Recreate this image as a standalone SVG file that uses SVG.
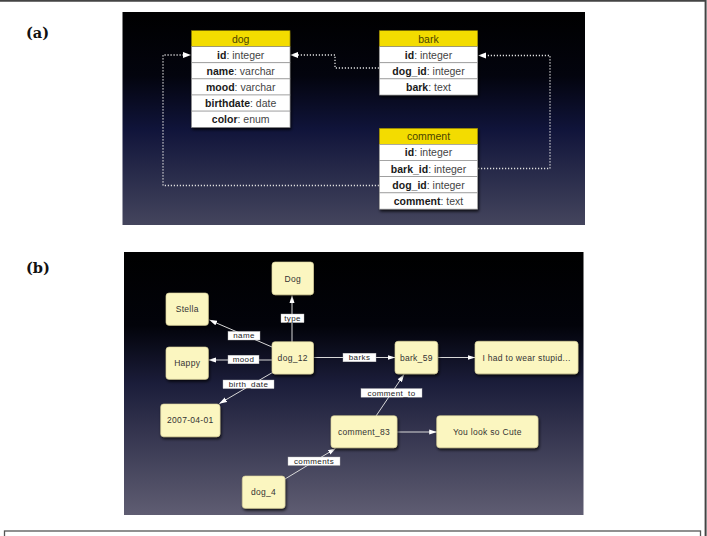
<svg xmlns="http://www.w3.org/2000/svg" width="707" height="536" viewBox="0 0 707 536">
<defs>
<linearGradient id="gA" x1="0" y1="0" x2="0" y2="1">
<stop offset="0" stop-color="#000"/>
<stop offset="0.3" stop-color="#03040e"/>
<stop offset="0.55" stop-color="#10143a"/>
<stop offset="1" stop-color="#44455d"/>
</linearGradient>
<linearGradient id="gB" x1="0" y1="0" x2="0" y2="1">
<stop offset="0" stop-color="#000"/>
<stop offset="0.28" stop-color="#02030a"/>
<stop offset="0.5" stop-color="#1b1d3a"/>
<stop offset="1" stop-color="#5f5d72"/>
</linearGradient>
<filter id="sh" x="-20%" y="-20%" width="150%" height="150%">
<feDropShadow dx="1" dy="2" stdDeviation="1.5" flood-color="#000" flood-opacity="0.8"/>
</filter>
<marker id="ab" markerWidth="8" markerHeight="6" refX="7.5" refY="3" orient="auto" markerUnits="userSpaceOnUse">
<path d="M0,0.5 L8,3 L0,5.5 Z" fill="#fff"/>
</marker>
</defs>
<style>
.hd{fill:#f3dc00;stroke:#8c7f00;stroke-width:0.6}
.rw{fill:#fff;stroke:#8a8a8a;stroke-width:0.6}
.tt{font-family:"Liberation Sans",Arial,sans-serif;font-size:10.5px;fill:#444;text-anchor:middle}
.th{font-family:"Liberation Sans",Arial,sans-serif;font-size:10.5px;fill:#4a4400;text-anchor:middle}
.b{font-weight:bold;fill:#1a1a1a}
.dot{fill:none;stroke:#e0e0e0;stroke-width:1.3;stroke-dasharray:1.2 1.8}
.nd{fill:#fbf6c0;stroke:#d8d09a;stroke-width:0.6}
.nt{font-family:"Liberation Sans",Arial,sans-serif;font-size:8.5px;fill:#333;text-anchor:middle;letter-spacing:0.3px}
.ln{fill:none;stroke:#d8d8d8;stroke-width:1}
.lb{fill:#fff;stroke:#bbb;stroke-width:0.4}
.lt{font-family:"Liberation Sans",Arial,sans-serif;font-size:8px;fill:#222;text-anchor:middle;letter-spacing:0.4px}
.pl{font-family:"DejaVu Serif","Liberation Serif",serif;font-weight:bold;font-size:14.5px;fill:#111}
</style>
<rect width="707" height="536" fill="#fff"/>
<path d="M0,0.8 H705.6 V536" fill="none" stroke="#444" stroke-width="2"/>
<rect x="4.5" y="531" width="696" height="10" fill="none" stroke="#555" stroke-width="1.3"/>
<text class="pl" x="26" y="38">(a)</text>
<text class="pl" x="26" y="273">(b)</text>

<rect x="122.5" y="12" width="462.5" height="213" fill="url(#gA)"/>
<g id="connectors-a">
<path class="dot" d="M379,185.5 H163 V55 H183"/>
<path d="M183,52 L191,55 L183,58 Z" fill="#fff"/>
<path class="dot" d="M379,68 H335 V55 H298"/>
<path d="M298,52 L290,55 L298,58 Z" fill="#fff"/>
<path class="dot" d="M478,168.5 H550 V55.5 H486"/>
<path d="M486,52.5 L478,55.5 L486,58.5 Z" fill="#fff"/>
</g>
<g id="t-dog" filter="url(#sh)">
<rect class="hd" x="191.5" y="30.7" width="98.5" height="16"/>
<rect class="rw" x="191.5" y="46.7" width="98.5" height="16.1"/>
<rect class="rw" x="191.5" y="62.8" width="98.5" height="16.1"/>
<rect class="rw" x="191.5" y="78.9" width="98.5" height="16.1"/>
<rect class="rw" x="191.5" y="95" width="98.5" height="16.1"/>
<rect class="rw" x="191.5" y="111.1" width="98.5" height="16.2"/>
</g>
<g id="t-dog-text">
<text class="th" x="240.7" y="42.5">dog</text>
<text class="tt" x="240.7" y="58.6"><tspan class="b">id</tspan>: integer</text>
<text class="tt" x="240.7" y="74.7"><tspan class="b">name</tspan>: varchar</text>
<text class="tt" x="240.7" y="90.8"><tspan class="b">mood</tspan>: varchar</text>
<text class="tt" x="240.7" y="106.9"><tspan class="b">birthdate</tspan>: date</text>
<text class="tt" x="240.7" y="123"><tspan class="b">color</tspan>: enum</text>
</g>
<g id="t-bark" filter="url(#sh)">
<rect class="hd" x="379.3" y="30.7" width="98.4" height="16"/>
<rect class="rw" x="379.3" y="46.7" width="98.4" height="16.1"/>
<rect class="rw" x="379.3" y="62.8" width="98.4" height="16.1"/>
<rect class="rw" x="379.3" y="78.9" width="98.4" height="16.1"/>
</g>
<g id="t-bark-text">
<text class="th" x="428.5" y="42.5">bark</text>
<text class="tt" x="428.5" y="58.6"><tspan class="b">id</tspan>: integer</text>
<text class="tt" x="428.5" y="74.7"><tspan class="b">dog_id</tspan>: integer</text>
<text class="tt" x="428.5" y="90.8"><tspan class="b">bark</tspan>: text</text>
</g>
<g id="t-comment" filter="url(#sh)">
<rect class="hd" x="379.3" y="128.3" width="98.4" height="16"/>
<rect class="rw" x="379.3" y="144.3" width="98.4" height="16.2"/>
<rect class="rw" x="379.3" y="160.5" width="98.4" height="16.2"/>
<rect class="rw" x="379.3" y="176.7" width="98.4" height="16.2"/>
<rect class="rw" x="379.3" y="192.9" width="98.4" height="16.2"/>
</g>
<g id="t-comment-text">
<text class="th" x="428.5" y="140.1">comment</text>
<text class="tt" x="428.5" y="156.3"><tspan class="b">id</tspan>: integer</text>
<text class="tt" x="428.5" y="172.5"><tspan class="b">bark_id</tspan>: integer</text>
<text class="tt" x="428.5" y="188.7"><tspan class="b">dog_id</tspan>: integer</text>
<text class="tt" x="428.5" y="204.9"><tspan class="b">comment</tspan>: text</text>
</g>

<rect x="124" y="252" width="459.5" height="263" fill="url(#gB)"/>
<g id="connectors-b">
<path class="ln" d="M292,342 V295.5" marker-end="url(#ab)"/>
<path class="ln" d="M272,347 L209.5,320" marker-end="url(#ab)"/>
<path class="ln" d="M272,360 L208.5,360" marker-end="url(#ab)"/>
<path class="ln" d="M275,371 L219.5,403.5" marker-end="url(#ab)"/>
<path class="ln" d="M313.5,357.5 L395,357.5" marker-end="url(#ab)"/>
<path class="ln" d="M437.7,357.5 L475,357.5" marker-end="url(#ab)"/>
<path class="ln" d="M376,416 L404,374.5" marker-end="url(#ab)"/>
<path class="ln" d="M397,432 L436.7,432" marker-end="url(#ab)"/>
<path class="ln" d="M285,479 L335.5,448.5" marker-end="url(#ab)"/>
<rect class="lb" x="281" y="314" width="23" height="8.6"/>
<text class="lt" x="292.5" y="321">type</text>
<rect class="lb" x="228" y="331.4" width="32" height="8.6"/>
<text class="lt" x="244" y="338.4">name</text>
<rect class="lb" x="228" y="355.2" width="31" height="8.6"/>
<text class="lt" x="243.5" y="362.2">mood</text>
<rect class="lb" x="223" y="380" width="51" height="8.6"/>
<text class="lt" x="248.5" y="387">birth_date</text>
<rect class="lb" x="343" y="353.2" width="33" height="8.6"/>
<text class="lt" x="359.5" y="360.2">barks</text>
<rect class="lb" x="361" y="388.6" width="61" height="8.6"/>
<text class="lt" x="391.5" y="395.6">comment_to</text>
<rect class="lb" x="288" y="457" width="52" height="8.4"/>
<text class="lt" x="314" y="463.9">comments</text>
</g>
<g id="n-Dog"><rect class="nd" filter="url(#sh)" x="272" y="262" width="41.5" height="32.7" rx="3"/><text class="nt" x="292.7" y="281.5">Dog</text></g>
<g id="n-Stella"><rect class="nd" filter="url(#sh)" x="166" y="293" width="42.3" height="32.3" rx="3"/><text class="nt" x="187.2" y="312.3">Stella</text></g>
<g id="n-Happy"><rect class="nd" filter="url(#sh)" x="166" y="347" width="42.3" height="32.3" rx="3"/><text class="nt" x="187.2" y="366.3">Happy</text></g>
<g id="n-dog_12"><rect class="nd" filter="url(#sh)" x="272" y="341.7" width="41.5" height="32.3" rx="3"/><text class="nt" x="292.7" y="360.9">dog_12</text></g>
<g id="n-bark_59"><rect class="nd" filter="url(#sh)" x="395" y="341.3" width="42.7" height="32.5" rx="3"/><text class="nt" x="416.3" y="360.6">bark_59</text></g>
<g id="n-text"><rect class="nd" filter="url(#sh)" x="475" y="341.3" width="103" height="32.5" rx="3"/><text class="nt" x="526.5" y="360.6">I had to wear stupid...</text></g>
<g id="n-date"><rect class="nd" filter="url(#sh)" x="160.7" y="404" width="59.3" height="32.7" rx="3"/><text class="nt" x="190.3" y="423.3">2007-04-01</text></g>
<g id="n-comment_83"><rect class="nd" filter="url(#sh)" x="331" y="415.7" width="66" height="32" rx="3"/><text class="nt" x="364" y="434.8">comment_83</text></g>
<g id="n-cute"><rect class="nd" filter="url(#sh)" x="436.7" y="415.7" width="101.3" height="32" rx="3"/><text class="nt" x="487.3" y="434.8">You look so Cute</text></g>
<g id="n-dog_4"><rect class="nd" filter="url(#sh)" x="242.3" y="476" width="42.7" height="32.3" rx="3"/><text class="nt" x="263.6" y="495.3">dog_4</text></g>
</svg>
